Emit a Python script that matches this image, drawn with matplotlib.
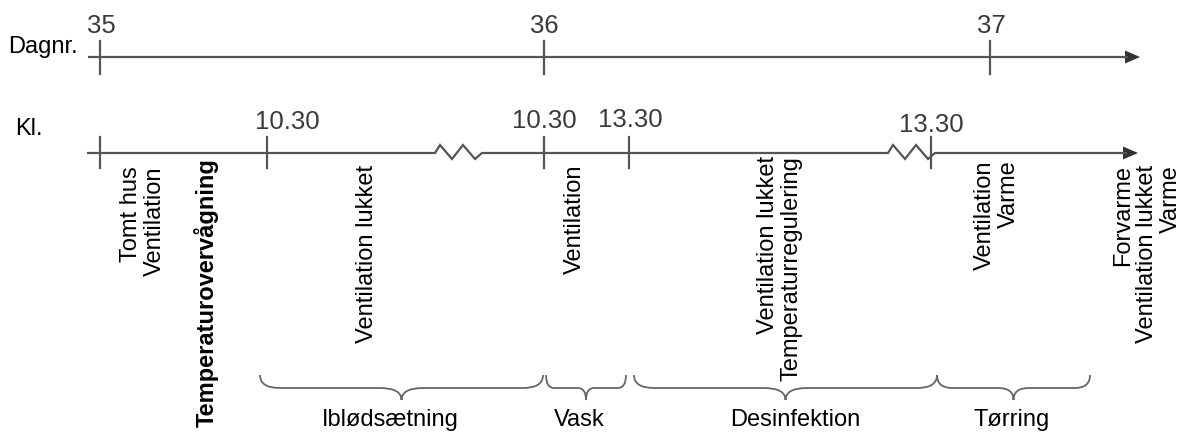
import matplotlib
matplotlib.use("Agg")
import matplotlib.pyplot as plt
from matplotlib.path import Path
from matplotlib.patches import PathPatch, Polygon

plt.rcParams['font.family'] = ['Liberation Sans', 'DejaVu Sans']

# ---- content ----
axis_titles = ["Dagnr.", "Kl."]
day_labels = ["35", "36", "37"]
time_labels = ["10.30", "10.30", "13.30", "13.30"]
action_labels = [
    "Tomt hus\nVentilation",
    "Temperaturovervågning",
    "Ventilation lukket",
    "Ventilation",
    "Ventilation lukket\nTemperaturregulering",
    "Ventilation\nVarme",
    "Forvarme\nVentilation lukket\nVarme",
]
action_bold = [False, True, False, False, False, False, False]
phase_labels = ["Iblødsætning", "Vask", "Desinfektion", "Tørring"]

# ---- layout (pixel coordinates of the 1183x432 canvas) ----
W, H = 1183, 432
day_x = [100, 544, 990]
day_lab_x = [101, 544, 991]
time_tick_x = [100, 267, 544, 629, 931]
time_lab_x = [287, 544, 630, 931]
time_lab_base = [129, 128, 127, 132]
break_x = [435, 888]
action_x = [143, 206, 367, 575, 780, 997, 1147]
action_top = [166, 158, 165, 165, 156, 160, 165]
phase_span = [(260, 543), (546, 626), (634, 937), (937, 1090)]
phase_lab_x = [390, 579, 795, 1012]

y_day, y_time = 57, 153
x_start, x_end = 88, 1140
line_col = '#555555'
lw = 1.6

fig = plt.figure(figsize=(W / 100, H / 100), dpi=100)
ax = fig.add_axes([0, 0, 1, 1])
ax.set_xlim(0, W)
ax.set_ylim(H, 0)
ax.axis('off')

# day axis
ax.plot([x_start, x_end - 12], [y_day, y_day], color=line_col, lw=lw, solid_capstyle='butt')
ax.add_patch(Polygon([[x_end - 15, y_day - 6.5], [x_end, y_day], [x_end - 15, y_day + 6.5]],
                     closed=True, color='#333333', lw=0))
for x in day_x:
    ax.plot([x, x], [y_day - 16, y_day + 17], color=line_col, lw=lw)
for x, t in zip(day_lab_x, day_labels):
    ax.text(x, 33, t, ha='center', va='baseline', fontsize=18.5, color='#3a3a3a')

# time axis with breaks
zig_dx = [0, 5, 17, 28, 40, 47]
zig_dy = [0, -8, 6, -8, 6, 0]
xs = [x_start]
ys = [y_time]
for bx in break_x:
    for dx, dy in zip(zig_dx, zig_dy):
        xs.append(bx + dx)
        ys.append(y_time + dy)
xs.append(x_end - 14)
ys.append(y_time)
ax.plot(xs, ys, color=line_col, lw=lw, solid_joinstyle='miter')
ax.add_patch(Polygon([[x_end - 17, y_time - 6.5], [x_end - 2, y_time], [x_end - 17, y_time + 6.5]],
                     closed=True, color='#333333', lw=0))
for x in time_tick_x:
    ax.plot([x, x], [y_time - 16, y_time + 15], color=line_col, lw=lw)
for x, b, t in zip(time_lab_x, time_lab_base, time_labels):
    ax.text(x, b, t, ha='center', va='baseline', fontsize=18.5, color='#3a3a3a')

# axis titles
ax.text(8, 53, axis_titles[0], ha='left', va='baseline', fontsize=17, color='black')
ax.text(15, 135, axis_titles[1], ha='left', va='baseline', fontsize=17, color='black')

# rotated action labels
for x, top, t, b in zip(action_x, action_top, action_labels, action_bold):
    ax.text(x, top, t, rotation=90, ha='center', va='top', multialignment='right',
            fontsize=17, fontweight='bold' if b else 'normal', color='black',
            linespacing=1.1)

# braces
def brace(x0, x1, ytop=375, ymid=388, ytip=400):
    xm = (x0 + x1) / 2
    wdt = x1 - x0
    r = min(20, 0.1 * wdt)
    r2 = min(22, 0.1 * wdt)
    verts = [(x0, ytop), (x0, ymid), (x0 + r, ymid), (xm - r2, ymid),
             (xm, ymid), (xm, ytip), (xm, ymid), (xm + r2, ymid),
             (x1 - r, ymid), (x1, ymid), (x1, ytop)]
    codes = [Path.MOVETO, Path.CURVE3, Path.CURVE3, Path.LINETO,
             Path.CURVE3, Path.CURVE3, Path.CURVE3, Path.CURVE3,
             Path.LINETO, Path.CURVE3, Path.CURVE3]
    ax.add_patch(PathPatch(Path(verts, codes), fill=False, edgecolor='#666666', lw=1.3))

for (x0, x1), lx, t in zip(phase_span, phase_lab_x, phase_labels):
    brace(x0, x1)
    ax.text(lx, 426, t, ha='center', va='baseline', fontsize=17, color='black')

fig.savefig('out.png', dpi=100)
